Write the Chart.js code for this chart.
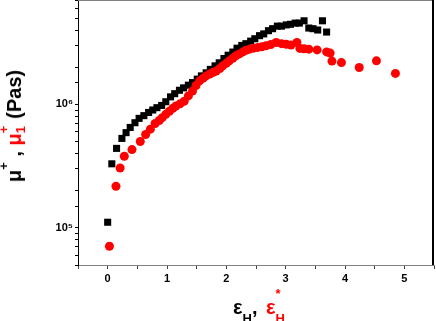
<!DOCTYPE html>
<html>
<head>
<meta charset="utf-8">
<script src="https://cdn.jsdelivr.net/npm/chart.js@4"></script>
<style>
  html, body { margin: 0; padding: 0; background: #fff; }
  #wrap { position: relative; width: 436px; height: 321px; overflow: hidden; }
  .title { position: absolute; font: bold 20px Arial, "Liberation Sans", sans-serif; line-height: 22px; white-space: nowrap; color: #000; }
  .red { color: #ff0000; }
  .title sub, .title sup { font-size: 13px; line-height: 0; }
  .stack { display: inline-block; position: relative; width: 9px; height: 1px; }
  .stack span { position: absolute; left: 0; font-size: 13px; line-height: 13px; }
  #ytitle { left: 14px; top: 126px; transform: translate(-50%, -50%) rotate(-90deg); }
  #ytitle sup { vertical-align: 13px; }
  #ytitle .s1 { top: -23px; }
  #ytitle .s2 { top: -6px; }
  #xtitle { left: 233px; top: 296px; }
  #xtitle .red { margin-left: 3px; }
  #xtitle sub { vertical-align: -9px; }
  #xtitle .s1 { top: -26px; }
  #xtitle .s2 { top: -1px; }
</style>
</head>
<body>
<div id="wrap">
  <canvas id="chart" width="436" height="321"></canvas>
  <div class="title" id="ytitle">μ<sup>+</sup> , <span class="red">μ<span class="stack"><span class="s1">+</span><span class="s2">1</span></span></span> (Pas)</div>
  <div class="title" id="xtitle">ε<sub>H</sub>, <span class="red">ε<span class="stack"><span class="s1">*</span><span class="s2">H</span></span></span></div>
</div>
<script>
// ============================================
// DATA
// ============================================
const strainBlack = [0.00, 0.07, 0.15, 0.24, 0.31, 0.38, 0.46, 0.53, 0.61, 0.69,
    0.76, 0.83, 0.91, 0.98, 1.06, 1.13, 1.21, 1.28, 1.36, 1.43,
    1.51, 1.58, 1.66, 1.73, 1.81, 1.88, 1.96, 2.03, 2.11, 2.18,
    2.26, 2.33, 2.41, 2.48, 2.56, 2.63, 2.71, 2.78, 2.86, 2.93,
    3.01, 3.08, 3.16, 3.23, 3.31, 3.39, 3.46, 3.54, 3.62, 3.69];
const viscBlack = [1.11e5, 3.3e5, 4.4e5, 5.3e5, 5.9e5, 6.5e5, 7.1e5, 7.7e5, 8.1e5, 8.6e5,
    9.0e5, 9.4e5, 9.8e5, 1.05e6, 1.15e6, 1.22e6, 1.3e6, 1.36e6, 1.43e6, 1.5e6,
    1.6e6, 1.7e6, 1.8e6, 1.92e6, 2.05e6, 2.17e6, 2.35e6, 2.5e6, 2.65e6, 2.85e6,
    3.0e6, 3.1e6, 3.25e6, 3.4e6, 3.6e6, 3.72e6, 3.95e6, 4.1e6, 4.3e6, 4.3e6,
    4.4e6, 4.45e6, 4.55e6, 4.55e6, 4.75e6, 4.15e6, 4.1e6, 4.0e6, 4.75e6, 3.85e6];

const strainRed = [0.03, 0.14, 0.21, 0.28, 0.41, 0.55, 0.64, 0.72, 0.80, 0.87,
    0.92, 0.98, 1.04, 1.10, 1.15, 1.22, 1.29, 1.36, 1.43, 1.49,
    1.55, 1.61, 1.66, 1.72, 1.78, 1.83, 1.89, 1.94, 2.00, 2.05,
    2.11, 2.16, 2.22, 2.28, 2.33, 2.39, 2.46, 2.53, 2.60, 2.67,
    2.75, 2.84, 2.93, 3.01, 3.09, 3.19, 3.24, 3.31, 3.39, 3.53,
    3.69, 3.75, 3.78, 3.94, 4.24, 4.53, 4.85];
const viscRed = [7.1e4, 2.17e5, 3.05e5, 3.8e5, 4.3e5, 5.0e5, 5.7e5, 6.3e5, 7.0e5, 7.4e5,
    7.8e5, 8.3e5, 8.8e5, 9.3e5, 9.7e5, 1.01e6, 1.06e6, 1.17e6, 1.28e6, 1.42e6,
    1.55e6, 1.63e6, 1.7e6, 1.76e6, 1.82e6, 1.86e6, 1.95e6, 2.05e6, 2.15e6, 2.25e6,
    2.36e6, 2.47e6, 2.56e6, 2.66e6, 2.74e6, 2.8e6, 2.85e6, 2.89e6, 2.93e6, 2.98e6,
    3.05e6, 3.17e6, 3.1e6, 3.07e6, 3.02e6, 3.17e6, 2.84e6, 2.82e6, 2.8e6, 2.76e6,
    2.66e6, 2.6e6, 2.24e6, 2.18e6, 1.99e6, 2.25e6, 1.78e6];

const xLabels = [0, 1, 2, 3, 4, 5];
const yLabels = { 5: '10⁵', 6: '10⁶' };

const toPoints = (xs, ys) => xs.map((x, i) => ({ x: x, y: ys[i] }));

// frame: gray top edge, thick black right edge
const framePlugin = {
    id: 'frame',
    afterDraw(chart) {
        const { ctx, chartArea } = chart;
        ctx.save();
        ctx.strokeStyle = '#808080';
        ctx.lineWidth = 1;
        ctx.beginPath();
        ctx.moveTo(chartArea.left, chartArea.top + 0.5);
        ctx.lineTo(chartArea.right, chartArea.top + 0.5);
        ctx.stroke();
        ctx.strokeStyle = '#000';
        ctx.lineWidth = 2;
        ctx.beginPath();
        ctx.moveTo(chartArea.right - 1, chartArea.top);
        ctx.lineTo(chartArea.right - 1, chartArea.bottom);
        ctx.stroke();
        ctx.restore();
    }
};

const tickFont = { family: 'Arial, "Liberation Sans", sans-serif', size: 11, weight: 'bold' };

new Chart(document.getElementById('chart'), {
    type: 'scatter',
    data: {
        datasets: [
            {
                label: 'mu+',
                data: toPoints(strainBlack, viscBlack),
                pointStyle: 'rect',
                pointRadius: 5,
                borderWidth: 0,
                backgroundColor: '#000000',
                order: 1
            },
            {
                label: 'mu1+',
                data: toPoints(strainRed, viscRed),
                pointStyle: 'circle',
                pointRadius: 4.5,
                borderWidth: 0,
                backgroundColor: '#ff0000',
                order: 0
            }
        ]
    },
    options: {
        responsive: false,
        animation: false,
        devicePixelRatio: 1,
        layout: { autoPadding: false, padding: { top: 0, right: 2, left: 0, bottom: 0 } },
        plugins: {
            legend: { display: false },
            tooltip: { enabled: false }
        },
        scales: {
            x: {
                type: 'linear',
                min: -0.5,
                max: 5.5,
                afterFit: (scale) => {
                    scale.height = 56;
                    scale.paddingLeft = 0;
                    scale.paddingRight = 0;
                },
                grid: { drawOnChartArea: false, drawTicks: true, tickLength: 4, color: '#404040' },
                border: { display: true, color: '#808080', width: 1 },
                ticks: {
                    stepSize: 0.5,
                    autoSkip: false,
                    maxRotation: 0,
                    padding: 3,
                    color: '#000',
                    font: tickFont,
                    callback: (v) => xLabels.includes(v) ? String(v) : ''
                }
            },
            y: {
                type: 'logarithmic',
                min: 5e4,
                max: 7e6,
                afterFit: (scale) => {
                    scale.width = 78;
                    scale.paddingTop = 0;
                    scale.paddingBottom = 0;
                },
                grid: { drawOnChartArea: false, drawTicks: true, tickLength: 3, color: '#000' },
                border: { display: true, color: '#000', width: 1 },
                ticks: {
                    autoSkip: false,
                    padding: 2,
                    color: '#000',
                    font: tickFont,
                    callback: (v) => {
                        const e = Math.log10(v);
                        return Math.abs(e - Math.round(e)) < 1e-9 && yLabels[Math.round(e)] ? yLabels[Math.round(e)] : '';
                    }
                }
            }
        }
    },
    plugins: [framePlugin]
});
</script>
</body>
</html>
